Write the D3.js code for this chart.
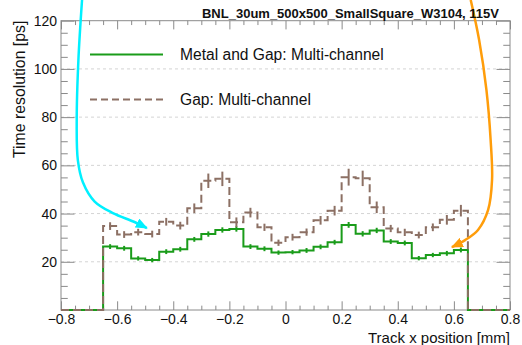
<!DOCTYPE html>
<html>
<head>
<meta charset="utf-8">
<script src="https://cdn.jsdelivr.net/npm/d3@7/dist/d3.min.js"></script>
<style>
  html, body { margin: 0; padding: 0; background: #fff; }
  svg { display: block; }
  text { font-family: "Liberation Sans", Arial, Helvetica, sans-serif; fill: #111; }
</style>
</head>
<body>
<svg id="chart" width="522" height="345"></svg>
<script>
// Histogram binning: 26 bins of 0.05 mm between -0.65 and 0.65 mm
const binLow = -0.65;
const binWidth = 0.05;

// Metal and Gap: Multi-channel (ps) per bin, with uncertainties
const metalGap = [26.3, 25.6, 21.4, 20.7, 24.2, 25.2, 29.3, 31.5, 33.2, 33.6,
                  26.3, 25.4, 23.8, 24.0, 24.7, 26.2, 28.1, 35.3, 31.6, 33.0,
                  28.4, 27.8, 21.5, 22.8, 23.5, 24.9];
const metalGapErr = [1.0, 1.0, 0.9, 0.9, 1.0, 1.0, 1.0, 1.1, 1.1, 1.1,
                     1.0, 1.0, 0.9, 0.9, 1.0, 1.0, 1.0, 1.2, 1.1, 1.1,
                     1.0, 1.0, 0.9, 0.9, 1.0, 1.0];

// Gap: Multi-channel (ps) per bin, with uncertainties
const gapOnly = [34.8, 31.3, 32.3, 31.5, 36.6, 35.0, 42.2, 53.6, 54.4, 36.4,
                 40.4, 34.3, 27.9, 30.2, 32.3, 37.2, 41.2, 55.1, 54.6, 42.6,
                 33.8, 32.2, 31.1, 34.3, 37.4, 41.2];
const gapOnlyErr = [1.6, 1.4, 1.4, 1.4, 1.6, 1.6, 2.0, 3.0, 3.0, 2.0,
                    2.0, 1.5, 1.3, 1.4, 1.5, 1.8, 2.0, 3.5, 3.2, 2.4,
                    1.5, 1.5, 1.4, 1.6, 2.0, 2.4];

// Axis ticks
const xMajor = [-0.8, -0.6, -0.4, -0.2, 0, 0.2, 0.4, 0.6, 0.8];
const yMajor = [20, 40, 60, 80, 100, 120];
const yGrid = [20, 40, 60, 80, 100];

const titleText = "BNL_30um_500x500_SmallSquare_W3104, 115V";
const xTitle = "Track x position [mm]";
const yTitle = "Time resolution [ps]";
const legendLabels = ["Metal and Gap: Multi-channel", "Gap: Multi-channel"];

// Hand-drawn annotation arrows, in data units (mm, ps)
const cyanArrow = [[-0.725, 128.6], [-0.738, 103.7], [-0.744, 78.8], [-0.740, 62.2],
                   [-0.722, 53.0], [-0.680, 45.0], [-0.615, 40.2], [-0.540, 36.6], [-0.494, 34.0]];
const orangeArrow = [[0.660, 128.6], [0.690, 112.0], [0.716, 91.3], [0.731, 70.5],
                     [0.736, 53.9], [0.722, 41.5], [0.686, 33.2], [0.640, 29.0], [0.593, 26.1]];

const plotL = 61, plotR = 510, plotT = 20.7, plotB = 310;

const x = d3.scaleLinear().domain([-0.8, 0.8]).range([plotL, plotR]);
const y = d3.scaleLinear().domain([0, 120]).range([plotB, plotT]);

const svg = d3.select("#chart");

const green = "#1a9c1a";
const brown = "#8c7064";
const axisCol = "#8a8a8a";

// horizontal grid
svg.append("g").selectAll("line").data(yGrid).join("line")
  .attr("x1", plotL).attr("x2", plotR)
  .attr("y1", d => y(d)).attr("y2", d => y(d))
  .attr("stroke", "#d4d4d4").attr("stroke-width", 1)
  .attr("stroke-dasharray", "3,3");

const xMinor = d3.range(-0.8, 0.8001, 0.05).map(v => +v.toFixed(3)).filter(v => !xMajor.some(m => Math.abs(m - v) < 1e-6));
const yMinor = d3.range(0, 120.001, 5).filter(v => v % 20 !== 0);

const xTickLen = 8.7, yTickLen = 13.5;
const fmtX = d => (Math.abs(d) < 1e-9 ? "0" : d3.format(".1f")(d));

function styleAxis(g) {
  g.select(".domain").remove();
  g.selectAll(".tick line").attr("stroke", axisCol).attr("stroke-width", 1);
  g.selectAll(".tick text").style("font-size", "14px").attr("fill", "#111");
}

// bottom axis
svg.append("g").attr("transform", `translate(0,${plotB})`)
  .call(d3.axisBottom(x).tickValues(xMajor).tickSize(-xTickLen).tickPadding(4.5).tickFormat(fmtX))
  .call(styleAxis);
svg.append("g").attr("transform", `translate(0,${plotB})`)
  .call(d3.axisBottom(x).tickValues(xMinor).tickSize(-xTickLen / 2).tickFormat(""))
  .call(styleAxis);
// top axis
svg.append("g").attr("transform", `translate(0,${plotT})`)
  .call(d3.axisTop(x).tickValues(xMajor).tickSize(-xTickLen).tickFormat(""))
  .call(styleAxis);
svg.append("g").attr("transform", `translate(0,${plotT})`)
  .call(d3.axisTop(x).tickValues(xMinor).tickSize(-xTickLen / 2).tickFormat(""))
  .call(styleAxis);
// left axis
svg.append("g").attr("transform", `translate(${plotL},0)`)
  .call(d3.axisLeft(y).tickValues(yMajor).tickSize(-yTickLen).tickPadding(4))
  .call(styleAxis);
svg.append("g").attr("transform", `translate(${plotL},0)`)
  .call(d3.axisLeft(y).tickValues(yMinor).tickSize(-yTickLen / 2).tickFormat(""))
  .call(styleAxis);
// right axis
svg.append("g").attr("transform", `translate(${plotR},0)`)
  .call(d3.axisRight(y).tickValues(yMajor).tickSize(-yTickLen).tickFormat(""))
  .call(styleAxis);
svg.append("g").attr("transform", `translate(${plotR},0)`)
  .call(d3.axisRight(y).tickValues(yMinor).tickSize(-yTickLen / 2).tickFormat(""))
  .call(styleAxis);

// frame
svg.append("rect")
  .attr("x", plotL).attr("y", plotT)
  .attr("width", plotR - plotL).attr("height", plotB - plotT)
  .attr("fill", "none").attr("stroke", axisCol).attr("stroke-width", 1);

// step outline of a histogram, zero outside the filled range
function stepPoints(vals) {
  const pts = [[-0.8, 0], [binLow, 0]];
  vals.forEach((v, i) => {
    const a = binLow + i * binWidth, b = a + binWidth;
    pts.push([a, v], [b, v]);
  });
  pts.push([binLow + vals.length * binWidth, 0], [0.8, 0]);
  return pts;
}
const stepLine = d3.line().x(d => x(d[0])).y(d => y(d[1]));

function drawHist(vals, errs, color, dash) {
  const g = svg.append("g");
  g.append("path").attr("d", stepLine(stepPoints(vals)))
    .attr("fill", "none").attr("stroke", color).attr("stroke-width", 2)
    .attr("stroke-dasharray", dash);
  g.selectAll("line").data(vals).join("line")
    .attr("x1", (d, i) => x(binLow + (i + 0.5) * binWidth))
    .attr("x2", (d, i) => x(binLow + (i + 0.5) * binWidth))
    .attr("y1", (d, i) => y(d - errs[i]))
    .attr("y2", (d, i) => y(d + errs[i]))
    .attr("stroke", color).attr("stroke-width", 2);
}
drawHist(metalGap, metalGapErr, green, null);
drawHist(gapOnly, gapOnlyErr, brown, "8,4");

// legend
const legY = [54.5, 99.5];
const legStyle = [{ c: green, dash: null }, { c: brown, dash: "7,4" }];
legendLabels.forEach((lab, i) => {
  svg.append("line")
    .attr("x1", 90).attr("x2", 163).attr("y1", legY[i]).attr("y2", legY[i])
    .attr("stroke", legStyle[i].c).attr("stroke-width", 2)
    .attr("stroke-dasharray", legStyle[i].dash);
  svg.append("text").attr("x", 180).attr("y", legY[i] + 5.6)
    .style("font-size", "15.6px").text(lab);
});

// annotation arrows
const defs = svg.append("defs");
function marker(id, color) {
  defs.append("marker").attr("id", id)
    .attr("viewBox", "0 0 12 10").attr("refX", 11).attr("refY", 5)
    .attr("markerWidth", 12).attr("markerHeight", 10)
    .attr("markerUnits", "userSpaceOnUse").attr("orient", "auto")
    .append("path").attr("d", "M0,0 L12,5 L0,10 Z").attr("fill", color);
}
marker("headCyan", "#00f0ff");
marker("headOrange", "#ff9d0a");
const curve = d3.line().x(d => x(d[0])).y(d => y(d[1])).curve(d3.curveCatmullRom.alpha(0.5));
svg.append("path").attr("d", curve(cyanArrow))
  .attr("fill", "none").attr("stroke", "#00f0ff").attr("stroke-width", 2.5)
  .attr("marker-end", "url(#headCyan)");
svg.append("path").attr("d", curve(orangeArrow))
  .attr("fill", "none").attr("stroke", "#ff9d0a").attr("stroke-width", 2.5)
  .attr("marker-end", "url(#headOrange)");

// titles
svg.append("text").attr("x", 499).attr("y", 18).attr("text-anchor", "end")
  .style("font-size", "13px").style("font-weight", "bold").text(titleText);
svg.append("text").attr("x", plotR).attr("y", 342.5).attr("text-anchor", "end")
  .style("font-size", "15px").text(xTitle);
svg.append("text").attr("transform", `translate(25,${plotT}) rotate(-90)`)
  .attr("text-anchor", "end").style("font-size", "15.8px").text(yTitle);
</script>
</body>
</html>
